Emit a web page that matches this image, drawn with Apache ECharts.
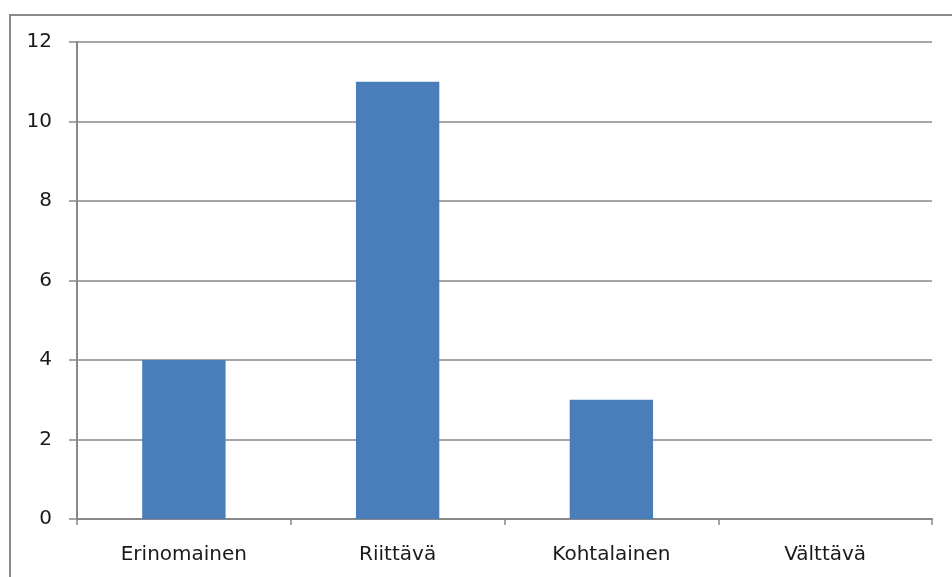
<!DOCTYPE html>
<html>
<head>
<meta charset="utf-8">
<script src="https://cdn.jsdelivr.net/npm/echarts@6/dist/echarts.min.js"></script>
<style>
html,body{margin:0;padding:0;background:#fff;}
#frame{position:absolute;left:9px;top:14px;width:960px;height:600px;border:2px solid #8a8a8a;box-sizing:border-box;}
#chart{position:absolute;left:0;top:0;width:952px;height:577px;}
</style>
</head>
<body>
<div id="frame"></div>
<div id="chart"></div>
<script>
const categories = ["Erinomainen", "Riittävä", "Kohtalainen", "Välttävä"];
const values = [4, 11, 3, 0];

const chart = echarts.init(document.getElementById('chart'));
chart.setOption({
  animation: false,
  grid: {left: 77, right: 20, top: 42, bottom: 58},
  xAxis: {
    type: 'category',
    data: categories,
    axisLine: {lineStyle: {color: '#888', width: 2}},
    axisTick: {show: true, alignWithLabel: false, length: 6, lineStyle: {color: '#888', width: 1.5}},
    axisLabel: {color: '#1a1a1a', fontSize: 20, fontFamily: 'DejaVu Sans', margin: 26}
  },
  yAxis: {
    type: 'value',
    min: 0, max: 12, interval: 2,
    axisLine: {show: true, lineStyle: {color: '#888', width: 2}},
    axisTick: {show: true, length: 8, lineStyle: {color: '#888', width: 1.5}},
    axisLabel: {color: '#1a1a1a', fontSize: 20, fontFamily: 'DejaVu Sans', margin: 25},
    splitLine: {lineStyle: {color: '#888', width: 1.5}}
  },
  series: [{
    type: 'bar',
    data: values,
    barWidth: '39%',
    itemStyle: {color: '#4a7ebb'}
  }]
});
</script>
</body>
</html>
